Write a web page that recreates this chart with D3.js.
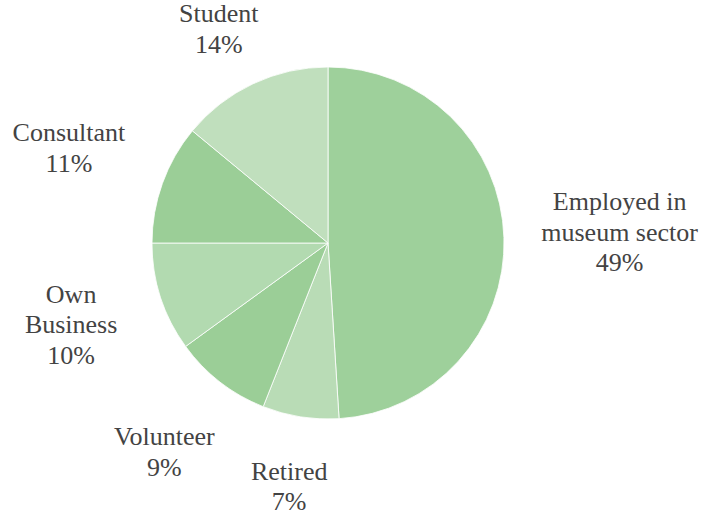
<!DOCTYPE html>
<html>
<head>
<meta charset="utf-8">
<script src="https://cdn.jsdelivr.net/npm/d3@7"></script>
<style>
  html, body { margin: 0; padding: 0; background: #fff; }
  .canva { width: 705px; height: 520px; }
  text { font-family: "Liberation Serif", serif; font-size: 26px; fill: #434343; }
</style>
</head>
<body>
<div class="canva"></div>
<script>
const categories = ["Employed in\nmuseum sector", "Retired", "Volunteer", "Own\nBusiness", "Consultant", "Student"]
const values = [49, 7, 9, 10, 11, 14]
const colors = ["#9ed09b", "#b9dcb6", "#9bce97", "#b2dab0", "#9bce97", "#c0dfbd"]

const width = 705
const height = 520
const cx = 328
const cy = 243
const radius = 176
const gap = 36
const lineHeight = 30.5

const svg = d3.select(".canva").append("svg").attr("width", width).attr("height", height)

const data = categories.map((c, i) => ({ name: c, value: values[i], color: colors[i] }))

const pie = d3.pie().sort(null).value(d => d.value)
const arc = d3.arc().innerRadius(0).outerRadius(radius)
const arcs = pie(data)

const g = svg.append("g").attr("transform", `translate(${cx},${cy})`)

g.selectAll("path")
  .data(arcs)
  .enter()
  .append("path")
  .attr("d", arc)
  .attr("fill", d => d.data.color)
  .attr("stroke", "#fff")
  .attr("stroke-width", 0.8)

//labels outside, pushed out by their own size
const labels = g.selectAll("text.label")
  .data(arcs)
  .enter()
  .append("text")
  .attr("class", "label")
  .attr("text-anchor", "middle")

labels.each(function (d) {
  const lines = d.data.name.split("\n").concat([d.data.value + "%"])
  const t = d3.select(this)
  lines.forEach((l, i) => {
    t.append("tspan").attr("x", 0).attr("dy", i == 0 ? 0 : lineHeight).text(l)
  })
  let w = 0
  t.selectAll("tspan").each(function () { w = Math.max(w, this.getComputedTextLength()) })
  const h = lines.length * lineHeight
  const mid = (d.startAngle + d.endAngle) / 2
  const s = Math.sin(mid)
  const c = Math.cos(mid)
  const dist = radius + gap + Math.abs(s) * w / 2 + Math.abs(c) * h / 2
  let x = s * dist
  let y = -c * dist
  //keep the block inside the picture
  let top = cy + y - h / 2
  if (top < 0) y -= top
  let bottom = cy + y + h / 2
  if (bottom > height) y -= bottom - height
  const firstBaseline = y - h / 2 + 22
  t.attr("transform", `translate(${x},${firstBaseline})`)
})
</script>
</body>
</html>
